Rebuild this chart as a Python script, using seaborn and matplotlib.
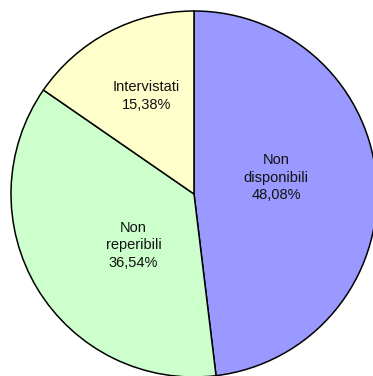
import matplotlib
matplotlib.use("Agg")
import matplotlib.pyplot as plt
import seaborn as sns

categories = ["Non\ndisponibili", "Non\nreperibili", "Intervistati"]
values = [48.08, 36.54, 15.38]
pct_labels = ["48,08%", "36,54%", "15,38%"]
colors = ["#9999FF", "#CCFFCC", "#FFFFCC"]

# label positions (Excel-style, inside each slice)
label_pos = [(0.45, 0.09), (-0.33, -0.28), (-0.26, 0.535)]

sns.set_style("white")
plt.rcParams['font.family'] = ['Liberation Sans', 'DejaVu Sans']

fig = plt.figure(figsize=(3.73, 3.76), dpi=100)
ax = fig.add_axes([0, 0, 1, 1])

cx, cy, r = 194, 194, 183
ax.pie(values, colors=colors, startangle=90, counterclock=False,
       wedgeprops=dict(edgecolor="black", linewidth=1.1), radius=1)

for (x, y), cat, pct in zip(label_pos, categories, pct_labels):
    ax.text(x, y, f"{cat}\n{pct}", ha="center", va="center",
            fontsize=10.5, linespacing=1.3, color="#111111")

ax.set_aspect("equal")
ax.set_xlim(-cx / r, (373 - cx) / r)
ax.set_ylim(-(376 - cy) / r, cy / r)
ax.axis("off")

fig.savefig("out.png", dpi=100)
plt.close(fig)
